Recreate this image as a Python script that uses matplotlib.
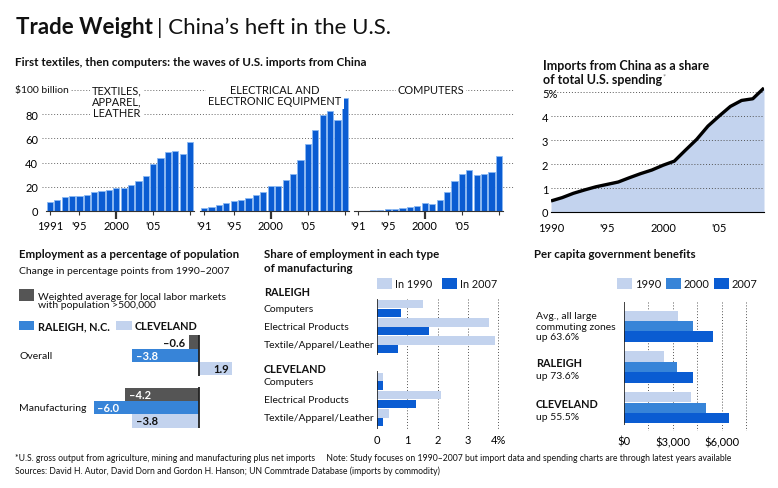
import numpy as np
import matplotlib
matplotlib.use('Agg')
import matplotlib.pyplot as plt
from matplotlib.patches import Rectangle
from matplotlib import transforms

plt.rcParams['font.family'] = ['Lato', 'DejaVu Sans']
plt.rcParams['text.color'] = '#111111'

W, H = 778, 489

# ── top: U.S. imports from China, $ billion ───────────────────────────────
years = np.arange(1991, 2011)
textiles = [7.5, 9.4, 11.7, 12.2, 12.5, 13.3, 15.8, 16.4, 17.2, 18.6,
            19.4, 21.7, 24.7, 28.9, 38.6, 43.6, 48.9, 49.7, 47.2, 57.2]
electrical = [2.8, 3.6, 4.7, 6.9, 8.3, 9.4, 11.1, 13.3, 15.8, 20.5,
              20.5, 25.5, 30.5, 42.0, 55.0, 67.0, 79.0, 83.0, 75.0, 93.6]
computers = [0.1, 0.3, 0.5, 1.1, 1.4, 1.7, 2.2, 3.0, 4.4, 7.0,
             6.0, 9.4, 15.8, 25.0, 30.5, 34.0, 29.4, 30.5, 32.5, 45.5]
panel_names = ['TEXTILES,\nAPPAREL,\nLEATHER',
               'ELECTRICAL AND\nELECTRONIC EQUIPMENT',
               'COMPUTERS']
first_labels = ['1991', "'91", "'91"]

# ── imports as share of U.S. spending, % ──────────────────────────────────
share_years = np.arange(1990, 2010)
share = [0.46, 0.6, 0.78, 0.92, 1.05, 1.15, 1.25, 1.43, 1.6, 1.75,
         1.95, 2.12, 2.58, 3.03, 3.58, 4.0, 4.4, 4.65, 4.72, 5.17]

# ── employment change 1990-2007, percentage points ────────────────────────
emp_groups = ['Overall', 'Manufacturing']
emp_avg = [-0.6, -4.2]
emp_raleigh = [-3.8, -6.0]
emp_cleveland = [1.9, -3.8]

# ── share of employment by manufacturing type, % ──────────────────────────
mfg_types = ['Computers', 'Electrical Products', 'Textile/Apparel/Leather']
raleigh_1990 = [1.5, 3.7, 3.9]
raleigh_2007 = [0.8, 1.7, 0.7]
cleveland_1990 = [0.2, 2.1, 0.4]
cleveland_2007 = [0.2, 1.3, 0.2]

# ── per capita government benefits, $ ─────────────────────────────────────
benefit_names = ['', 'RALEIGH', 'CLEVELAND']
benefit_notes = ['Avg., all large\ncommuting zones\nup 63.6%', 'up 73.6%', 'up 55.5%']
benefit_1990 = [3330, 2445, 4130]
benefit_2000 = [4250, 3225, 5015]
benefit_2007 = [5465, 4250, 6450]

BLUE = '#0a5cd2'
MID = '#3784d8'
LIGHT = '#c3d3ee'
GRAY = '#555555'
DOT = (0, (1, 2))
FS = 7.5  # regular label size

fig = plt.figure(figsize=(W / 100, H / 100), dpi=100)
renderer = fig.canvas.get_renderer()


def px_axes(x0, y0, x1, y1):
    ax = fig.add_axes([x0 / W, 1 - y1 / H, (x1 - x0) / W, (y1 - y0) / H])
    ax.patch.set_alpha(0)
    return ax


def ftext(x, y, s, **kw):
    return fig.text(x / W, 1 - y / H, s, **kw)


def swatch(x0, y0, x1, y1, color):
    fig.add_artist(Rectangle((x0 / W, 1 - y1 / H), (x1 - x0) / W, (y1 - y0) / H,
                             transform=fig.transFigure, color=color, lw=0))


def right_edge(t):
    return t.get_window_extent(renderer).x1


# ── headline ──────────────────────────────────────────────────────────────
t = ftext(16, 33.5, 'Trade Weight', fontsize=16, fontweight='bold', va='baseline')
ftext(right_edge(t) + 4, 33.5, '| China\u2019s heft in the U.S.', fontsize=16,
      va='baseline')
ftext(15, 65.5, 'First textiles, then computers: the waves of U.S. imports from China',
      fontsize=8.4, fontweight='bold', va='baseline')

# ── top-left: three import panels ─────────────────────────────────────────
grid_ax = px_axes(42, 91, 515, 212)
grid_ax.set_xlim(0, 1)
grid_ax.set_ylim(0, 100)
grid_ax.hlines([20, 40, 60, 80, 100], 0, 1, colors='#666666', linestyles=DOT, lw=0.7)
grid_ax.axis('off')

panel_ticks = [(50, 190), (204, 345), (358, 499)]
title_x = [117, 275, 431]
for i, vals in enumerate([textiles, electrical, computers]):
    p0, p1 = panel_ticks[i]
    step = (p1 - p0) / 19
    ax = px_axes(p0 - 0.6 * step, 91, p1 + 0.6 * step, 212)
    ax.bar(years, vals, width=0.84, color=BLUE, edgecolor='#8ab8f2', lw=0.6)
    ax.set_xlim(1990.4, 2010.6)
    ax.set_ylim(0, 100)
    for s in ['top', 'right', 'left']:
        ax.spines[s].set_visible(False)
    ax.spines['bottom'].set_color('#333333')
    ax.set_xticks([1991, 1995, 2000, 2005, 2010],
                  [first_labels[i], "'95", '2000', "'05", ''])
    ax.tick_params(axis='x', length=3, width=0.8, color='#333333', pad=3.5, labelsize=8)
    big = ax.xaxis.get_major_ticks()[2]
    big.tick1line.set_markersize(6)
    big.tick1line.set_markeredgewidth(1.6)
    if i == 0:
        ax.set_yticks([0, 20, 40, 60, 80])
        ax.tick_params(axis='y', length=0, pad=5.5, labelsize=8)
    else:
        ax.set_yticks([])
    ftext(title_x[i], 85, panel_names[i], fontsize=7.9, ha='center', va='top',
          linespacing=1.05, zorder=5,
          bbox=dict(facecolor='white', edgecolor='none', pad=1.5))

ftext(15, 91, '$100 billion', fontsize=7.5, va='center', zorder=5,
      bbox=dict(facecolor='white', edgecolor='none', pad=1.5))

# ── top-right: share of spending ──────────────────────────────────────────
ftext(543, 66, 'Imports from China as a share', fontsize=9, fontweight='bold', va='center')
t = ftext(543, 80, 'of total U.S. spending', fontsize=9, fontweight='bold', va='center')
ftext(right_edge(t) + 0.5, 77, '*', fontsize=5.5, color='#777777', va='center')

ax = px_axes(551, 88, 764, 213)
ax.fill_between(share_years, share, color=LIGHT, lw=0, zorder=1)
ax.hlines([1, 2, 3, 4, 5], 1990, 2009, colors='#555555', linestyles=DOT, lw=0.7, zorder=2)
ax.plot(share_years, share, color='black', lw=2.4, zorder=3, solid_capstyle='butt')
ax.set_xlim(1990, 2009)
ax.set_ylim(0, 5.21)
for s in ['top', 'right', 'left']:
    ax.spines[s].set_visible(False)
ax.spines['bottom'].set_color('black')
ax.set_xticks([1990, 1995, 2000, 2005], ['1990', "'95", '2000', "'05"])
ax.set_yticks([0, 1, 2, 3, 4, 5], ['0', '1', '2', '3', '4', '5%'])
ax.tick_params(axis='x', length=0, pad=7, labelsize=8)
ax.tick_params(axis='y', length=0, pad=6.5, labelsize=8)
for lab in ax.get_yticklabels():
    lab.set_horizontalalignment('left')

# ── bottom-left: employment change ────────────────────────────────────────
ftext(19, 254, 'Employment as a percentage of population', fontsize=8.3,
      fontweight='bold', va='center')
ftext(19, 271, 'Change in percentage points from 1990\u20132007', fontsize=FS, va='center')
swatch(19, 290, 34, 302, GRAY)
ftext(38, 301.5, 'Weighted average for local labor markets\nwith population >500,000',
      fontsize=FS, va='center', linespacing=0.95)
swatch(19, 322, 34, 331, MID)
ftext(38, 326.5, 'RALEIGH, N.C.', fontsize=7.8, fontweight='bold', va='center')
swatch(116, 322, 132, 331, LIGHT)
ftext(135, 326.5, 'CLEVELAND', fontsize=7.8, fontweight='bold', va='center')

ax = px_axes(85, 335, 243, 430)
pos = np.array([0, 3.9])
ax.set_xlim(-6.5, 2.5)
ax.set_ylim(6.5, -0.6)
series = [(emp_avg, GRAY, 'white'), (emp_raleigh, MID, 'white'), (emp_cleveland, LIGHT, '#111111')]
for k, (vals, col, tcol) in enumerate(series):
    ax.barh(pos + k, vals, height=1.0, color=col, lw=0)
    for y, v in zip(pos + k, vals):
        lab = f'{v:.1f}'.replace('-', '\u2013')
        if v > 0:
            ax.text(v - 0.2, y, lab, ha='right', va='center', fontsize=8,
                    fontweight='bold', color=tcol)
        elif v > -1.5:
            ax.text(v - 0.2, y, lab, ha='right', va='center', fontsize=8,
                    fontweight='bold', color='#111111')
        else:
            ax.text(v + 0.2, y, lab, ha='left', va='center', fontsize=8,
                    fontweight='bold', color=tcol)
ax.vlines([0, 0], pos - 0.55, pos + 2.55, color='#222222', lw=1.3)
ax.axis('off')
blend = transforms.blended_transform_factory(fig.transFigure, ax.transData)
for y, name in zip(pos + 1, emp_groups):
    ax.text(19 / W, y, name, transform=blend, fontsize=FS, va='center')

# ── bottom-middle: share of employment by type ────────────────────────────
ftext(264, 254.5, 'Share of employment in each type', fontsize=8.3, fontweight='bold', va='center')
ftext(264, 268.5, 'of manufacturing', fontsize=8.3, fontweight='bold', va='center')
swatch(377, 279, 392, 290, LIGHT)
ftext(395, 284.5, 'In 1990', fontsize=7.8, va='center')
swatch(442, 279, 457, 290, BLUE)
ftext(460, 284.5, 'In 2007', fontsize=7.8, va='center')

ax = px_axes(377, 299.5, 503, 430.5)
ax.set_xlim(0, 4.15)
ax.set_ylim(6.65, -0.55)
rows_r = np.arange(3)
rows_c = np.arange(3) + 4
ax.vlines([1, 2, 3, 4], -0.55, 6.65, colors='#555555', linestyles=DOT, lw=0.7, zorder=0)
ax.barh(rows_r - 0.235, raleigh_1990, height=0.46, color=LIGHT, lw=0)
ax.barh(rows_r + 0.235, raleigh_2007, height=0.46, color=BLUE, lw=0)
ax.barh(rows_c - 0.235, cleveland_1990, height=0.46, color=LIGHT, lw=0)
ax.barh(rows_c + 0.235, cleveland_2007, height=0.46, color=BLUE, lw=0)
ax.vlines([0, 0], [-0.52, 3.45], [2.55, 6.62], color='#222222', lw=1.2)
for s in ax.spines.values():
    s.set_visible(False)
ax.set_xticks([0, 1, 2, 3, 4], ['0', '1', '2', '3', '4%'])
ax.set_yticks([])
ax.tick_params(axis='x', length=0, pad=3.5, labelsize=8)
blend = transforms.blended_transform_factory(fig.transFigure, ax.transData)
ax.text(264 / W, -0.92, 'RALEIGH', transform=blend, fontsize=7.8, fontweight='bold', va='center')
ax.text(264 / W, 3.27, 'CLEVELAND', transform=blend, fontsize=7.8, fontweight='bold', va='center')
for rows in (rows_r, rows_c):
    for y, name in zip(rows, mfg_types):
        ax.text(264 / W, y, name, transform=blend, fontsize=FS, va='center')

# ── bottom-right: government benefits ─────────────────────────────────────
ftext(534, 254.5, 'Per capita government benefits', fontsize=8.3, fontweight='bold', va='center')
for x0, col, lab in [(617, LIGHT, '1990'), (666, MID, '2000'), (714, BLUE, '2007')]:
    swatch(x0, 279, x0 + 15, 290, col)
    ftext(x0 + 18, 284.5, lab, fontsize=8, va='center')

ax = px_axes(624, 303, 752, 432)
g = np.array([0, 3.9, 7.8])
ax.set_xlim(0, 7840)
ax.set_ylim(10.0, -2.29)
ax.vlines([1500, 3000, 4500, 6000, 7500], -2.29, 10.0, colors='#555555',
          linestyles=DOT, lw=0.7, zorder=0)
ax.barh(g - 1, benefit_1990, height=0.96, color=LIGHT, lw=0)
ax.barh(g, benefit_2000, height=0.96, color=MID, lw=0)
ax.barh(g + 1, benefit_2007, height=0.96, color=BLUE, lw=0)
ax.vlines(0, -2.29, 9.4, color='#222222', lw=1.2)
for s in ax.spines.values():
    s.set_visible(False)
ax.set_xticks([0, 3000, 6000], ['$0', '$3,000', '$6,000'])
ax.set_yticks([])
ax.tick_params(axis='x', length=0, pad=3.5, labelsize=8)
blend = transforms.blended_transform_factory(fig.transFigure, ax.transData)
for y, name, note in zip(g, benefit_names, benefit_notes):
    if name:
        ax.text(536 / W, y - 0.4, name, transform=blend, fontsize=7.8,
                fontweight='bold', va='center')
        ax.text(536 / W, y + 0.8, note, transform=blend, fontsize=FS, va='center')
    else:
        ax.text(536 / W, y, note, transform=blend, fontsize=FS, va='center',
                linespacing=1.15)

# ── footnotes ─────────────────────────────────────────────────────────────
ftext(15, 459, '*U.S. gross output from agriculture, mining and manufacturing plus net imports'
      '     Note: Study focuses on 1990\u20132007 but import data and spending charts are '
      'through latest years available', fontsize=6.25, va='center')
ftext(15, 471.5, 'Sources: David H. Autor, David Dorn and Gordon H. Hanson; '
      'UN Commtrade Database (imports by commodity)', fontsize=6.25, va='center')

fig.savefig('out.png', dpi=100, facecolor='white')
